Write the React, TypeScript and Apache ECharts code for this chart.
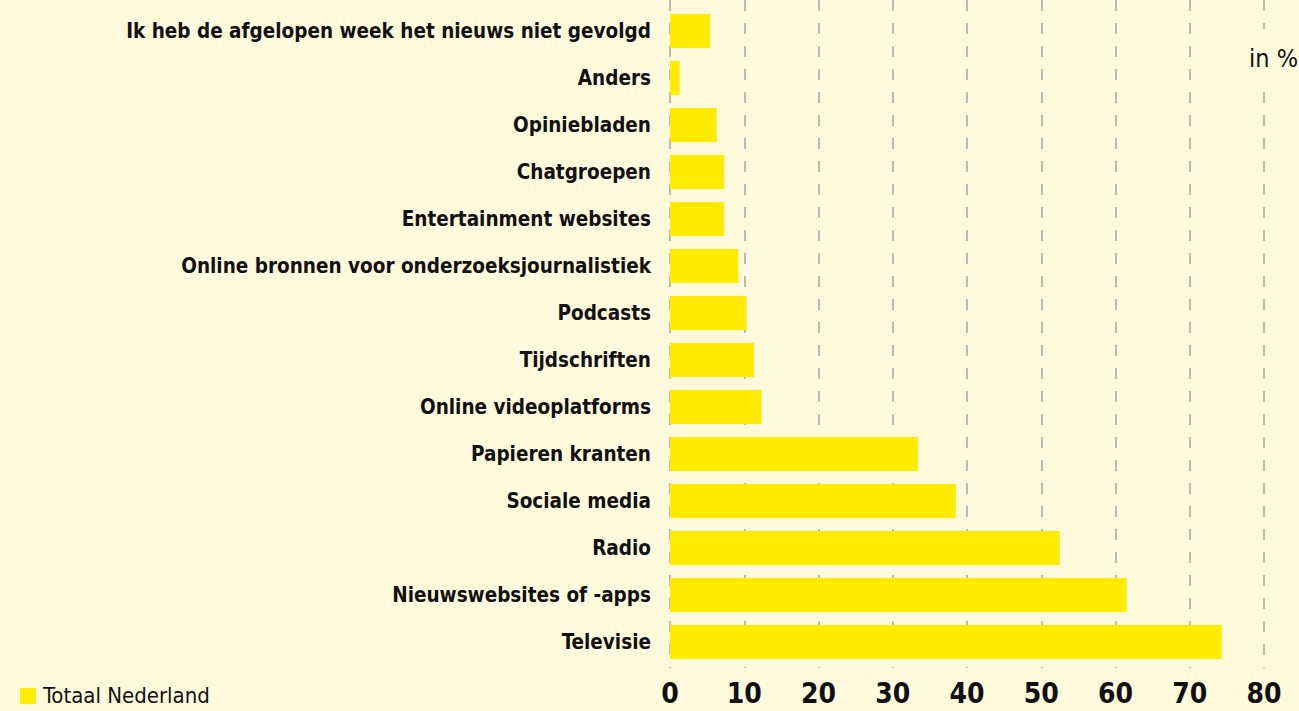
import React, { useEffect, useRef } from "react";
import * as echarts from "echarts";

const categories = [
  "Ik heb de afgelopen week het nieuws niet gevolgd",
  "Anders",
  "Opiniebladen",
  "Chatgroepen",
  "Entertainment websites",
  "Online bronnen voor onderzoeksjournalistiek",
  "Podcasts",
  "Tijdschriften",
  "Online videoplatforms",
  "Papieren kranten",
  "Sociale media",
  "Radio",
  "Nieuwswebsites of -apps",
  "Televisie",
];
const values = [5.4, 1.3, 6.3, 7.3, 7.3, 9.2, 10.3, 11.3, 12.3, 33.4, 38.5, 52.5, 61.5, 74.3];
const seriesName = "Totaal Nederland";
const unitLabel = "in %";
const xMin = 0;
const xMax = 80;
const xInterval = 10;

const FONT = "'Liberation Sans Narrow', 'DejaVu Sans Condensed', 'Roboto', sans-serif";
const BG = "#fffadc";
const YELLOW = "#ffec00";

export default function App() {
  const ref = useRef<HTMLDivElement>(null);
  useEffect(() => {
    if (!ref.current) return;
    const chart = echarts.init(ref.current, null, { renderer: "svg" });
    chart.setOption({
      animation: false,
      backgroundColor: BG,
      grid: [
        { left: 670, right: 35, top: 7.5, bottom: 45.5 },
        { left: 670, right: 35, top: 0, bottom: 43 },
      ],
      xAxis: [
        {
          gridIndex: 0,
          type: "value",
          min: xMin,
          max: xMax,
          interval: xInterval,
          axisLine: { show: false },
          axisTick: { show: false },
          splitLine: { show: false },
          axisLabel: {
            margin: 14,
            fontFamily: FONT,
            fontWeight: "bold",
            fontSize: 28,
            lineHeight: 28,
            color: "#111",
          },
        },
        {
          gridIndex: 1,
          type: "value",
          min: xMin,
          max: xMax,
          interval: xInterval,
          axisLine: { show: false },
          axisTick: { show: false },
          axisLabel: { show: false },
          splitLine: {
            show: true,
            lineStyle: { color: "#bdbab0", width: 2, type: [11, 12] },
          },
          z: 0,
        },
      ],
      yAxis: [
        {
          gridIndex: 0,
          type: "category",
          data: categories,
          inverse: true,
          axisLine: { show: false },
          axisTick: { show: false },
          axisLabel: {
            margin: 19,
            fontFamily: FONT,
            fontWeight: "bold",
            fontSize: 20.5,
            color: "#111",
          },
        },
        {
          gridIndex: 1,
          type: "category",
          data: categories,
          show: false,
        },
      ],
      series: [
        {
          name: seriesName,
          type: "bar",
          xAxisIndex: 0,
          yAxisIndex: 0,
          data: values,
          barCategoryGap: "28%",
          itemStyle: { color: YELLOW },
          z: 5,
        },
      ],
      graphic: [
        {
          type: "rect",
          left: 20,
          top: 688,
          shape: { width: 16, height: 16 },
          style: { fill: YELLOW },
        },
        {
          type: "text",
          left: 43,
          top: 684,
          style: {
            text: seriesName,
            fontFamily: FONT,
            fontSize: 22,
            fill: "#111",
          },
        },
        {
          type: "text",
          left: 1247,
          top: 29,
          style: {
            text: unitLabel,
            fontFamily: FONT,
            fontSize: 25,
            fill: "#111",
            backgroundColor: BG,
            padding: [17, 1, 9, 2],
          },
          z: 10,
        },
      ],
    });
    return () => chart.dispose();
  }, []);
  return <div ref={ref} style={{ width: 1299, height: 711, position: "fixed", left: 0, top: 0 }} />;
}
